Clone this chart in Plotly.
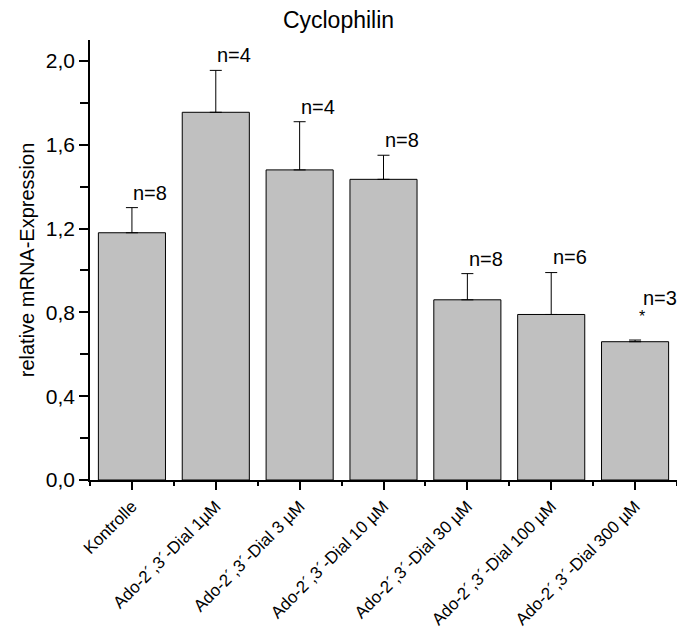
import plotly.graph_objects as go

categories = ["Kontrolle", "Ado-2´,3´-Dial 1µM", "Ado-2´,3´-Dial 3 µM", "Ado-2´,3´-Dial 10 µM",
              "Ado-2´,3´-Dial 30 µM", "Ado-2´,3´-Dial 100 µM", "Ado-2´,3´-Dial 300 µM"]
means = [1.18, 1.755, 1.48, 1.435, 0.86, 0.79, 0.66]
errors = [0.12, 0.20, 0.23, 0.115, 0.125, 0.20, 0.008]
n_labels = ["n=8", "n=4", "n=4", "n=8", "n=8", "n=6", "n=3"]
significant = [False, False, False, False, False, False, True]
ytick_vals = [0.0, 0.4, 0.8, 1.2, 1.6, 2.0]
ytick_text = ["0,0", "0,4", "0,8", "1,2", "1,6", "2,0"]

FONT = "Liberation Sans, Arial, Helvetica, sans-serif"
xs = list(range(len(categories)))

fig = go.Figure()
fig.add_trace(go.Bar(
    x=xs, y=means,
    marker=dict(color="#c0c0c0", line=dict(color="black", width=1)),
    error_y=dict(type="data", array=errors, arrayminus=[0]*len(errors), symmetric=False,
                 color="black", thickness=1, width=6),
    width=0.8,
))

annotations = []
for i, (m, e, lab, sig) in enumerate(zip(means, errors, n_labels, significant)):
    top = m + e
    if sig:
        annotations.append(dict(x=i + 0.08, y=top + 0.06, text="*", showarrow=False,
                                xanchor="center", yanchor="bottom", font=dict(size=16, family=FONT, color="black")))
        annotations.append(dict(x=i + 0.3, y=top + 0.14, text=lab, showarrow=False,
                                xanchor="center", yanchor="bottom", font=dict(size=20, family=FONT, color="black")))
    else:
        annotations.append(dict(x=i + 0.22, y=top + 0.01, text=lab, showarrow=False,
                                xanchor="center", yanchor="bottom", font=dict(size=20, family=FONT, color="black")))

fig.update_layout(
    width=677, height=633,
    margin=dict(l=90, r=0, t=40, b=153),
    paper_bgcolor="white", plot_bgcolor="white",
    showlegend=False,
    title=dict(text="Cyclophilin", x=0.5, xanchor="center", y=0.968, yanchor="middle",
               font=dict(size=23, family=FONT, color="black")),
    font=dict(family=FONT, color="black"),
    annotations=annotations,
    xaxis=dict(
        range=[-0.5, 6.5], tickmode="array", tickvals=xs, ticktext=categories,
        tickangle=-45, tickfont=dict(size=17, family=FONT, color="black"),
        showline=True, linecolor="black", linewidth=1.5, showgrid=False, zeroline=False,
        ticks="outside", ticklen=8, tickwidth=1.5, tickcolor="black",
        minor=dict(tickmode="linear", tick0=-0.5, dtick=1, ticks="outside", ticklen=4,
                   tickwidth=1.5, tickcolor="black", showgrid=False),
    ),
    yaxis=dict(
        range=[0, 2.1], tickmode="array", tickvals=ytick_vals, ticktext=ytick_text,
        tickfont=dict(size=21, family=FONT, color="black"),
        title=dict(text="relative mRNA-Expression", font=dict(size=20, family=FONT, color="black"), standoff=6),
        showline=True, linecolor="black", linewidth=1.5, showgrid=False, zeroline=False,
        ticks="outside", ticklen=9, tickwidth=1.5, tickcolor="black",
        minor=dict(tickmode="linear", tick0=0.2, dtick=0.4, ticks="outside", ticklen=8,
                   tickwidth=1.5, tickcolor="black", showgrid=False),
    ),
)

fig.write_html("out.html")
